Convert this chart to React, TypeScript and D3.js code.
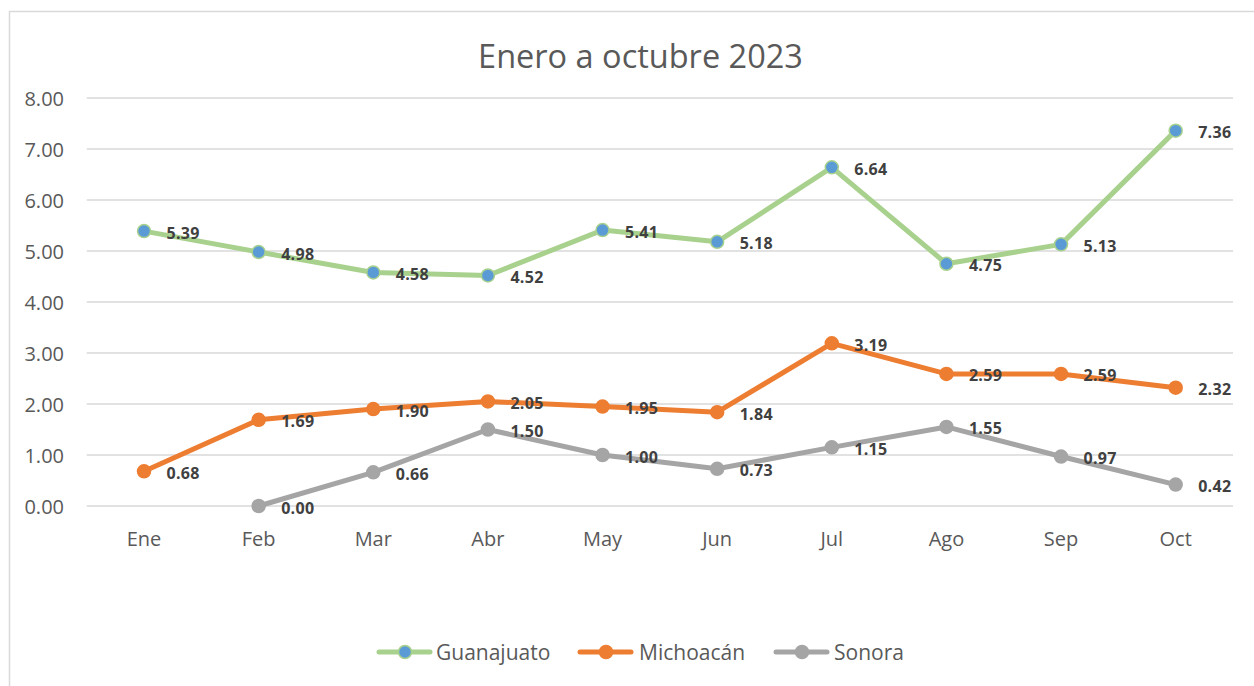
import React from "react";
import * as d3 from "d3";

const categories = ["Ene", "Feb", "Mar", "Abr", "May", "Jun", "Jul", "Ago", "Sep", "Oct"];
const guanajuato: (number | null)[] = [5.39, 4.98, 4.58, 4.52, 5.41, 5.18, 6.64, 4.75, 5.13, 7.36];
const michoacan: (number | null)[] = [0.68, 1.69, 1.9, 2.05, 1.95, 1.84, 3.19, 2.59, 2.59, 2.32];
const sonora: (number | null)[] = [null, 0.0, 0.66, 1.5, 1.0, 0.73, 1.15, 1.55, 0.97, 0.42];
const yTicks = [0, 1, 2, 3, 4, 5, 6, 7, 8];

const series = [
  { name: "Guanajuato", values: guanajuato, line: "#A9D18E", fill: "#5B9BD5", stroke: "#A9D18E" },
  { name: "Michoacán", values: michoacan, line: "#ED7D31", fill: "#ED7D31", stroke: "#ED7D31" },
  { name: "Sonora", values: sonora, line: "#A5A5A5", fill: "#A5A5A5", stroke: "#A5A5A5" },
];

const W = 1254;
const H = 686;
const left = 86.7;
const right = 1233;
const top = 98;
const bottom = 506;

export default function App() {
  const x = d3.scaleBand<string>().domain(categories).range([left, right]);
  const y = d3.scaleLinear().domain([0, 8]).range([bottom, top]);
  const cx = (c: string) => (x(c) as number) + x.bandwidth() / 2;
  const font = "'Open Sans', sans-serif";
  const legendItems = [
    { s: series[0], lx: 379, tx: 436 },
    { s: series[1], lx: 580, tx: 639 },
    { s: series[2], lx: 776, tx: 834 },
  ];
  return (
    <div style={{ position: "fixed", left: 0, top: 0 }}>
      <svg width={W} height={H} style={{ display: "block", background: "#fff" }}>
        <rect x={9.5} y={11.5} width={W + 10} height={H + 10} fill="#fff" stroke="#D9D9D9" strokeWidth={1.5} />
        <text x={640.5} y={55} textAnchor="middle" dominantBaseline="central" fontFamily={font} fontSize={32.5} fill="#595959">
          Enero a octubre 2023
        </text>
        {yTicks.map((t) => (
          <g key={t}>
            <line x1={left} x2={right} y1={y(t)} y2={y(t)} stroke="#D9D9D9" strokeWidth={1.5} />
            <text x={64} y={y(t)} textAnchor="end" dominantBaseline="central" fontFamily={font} fontSize={20} fill="#595959">
              {t.toFixed(2)}
            </text>
          </g>
        ))}
        {categories.map((c) => (
          <text key={c} x={cx(c)} y={538} textAnchor="middle" dominantBaseline="central" fontFamily={font} fontSize={20} fill="#595959">
            {c}
          </text>
        ))}
        {series.map((s) => {
          const line = d3
            .line<number | null>()
            .defined((d) => d !== null)
            .x((_, i) => cx(categories[i]))
            .y((d) => y(d as number));
          return (
            <g key={s.name}>
              <path d={line(s.values) || ""} fill="none" stroke={s.line} strokeWidth={5} strokeLinejoin="round" strokeLinecap="round" />
              {s.values.map((v, i) =>
                v === null ? null : (
                  <g key={i}>
                    <circle cx={cx(categories[i])} cy={y(v)} r={6.5} fill={s.fill} stroke={s.stroke} strokeWidth={1.5} />
                    <text
                      x={cx(categories[i]) + 22.5}
                      y={y(v) + 1.5}
                      dominantBaseline="central"
                      fontFamily={font}
                      fontWeight={700}
                      fontSize={16}
                      letterSpacing={0.3}
                      fill="#404040"
                    >
                      {v.toFixed(2)}
                    </text>
                  </g>
                )
              )}
            </g>
          );
        })}
        {legendItems.map(({ s, lx, tx }) => (
          <g key={s.name}>
            <line x1={lx} x2={lx + 51} y1={652} y2={652} stroke={s.line} strokeWidth={5} strokeLinecap="round" />
            <circle cx={lx + 26} cy={652} r={6.5} fill={s.fill} stroke={s.stroke} strokeWidth={1.5} />
            <text x={tx} y={652} dominantBaseline="central" fontFamily={font} fontSize={21} fill="#595959">
              {s.name}
            </text>
          </g>
        ))}
      </svg>
    </div>
  );
}
